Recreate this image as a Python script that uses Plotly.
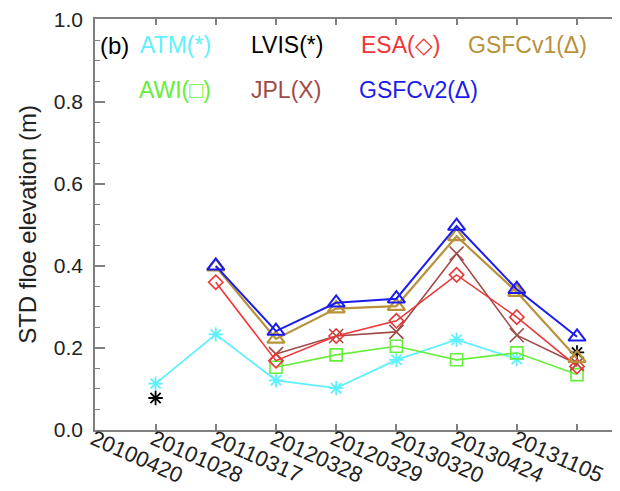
import plotly.graph_objects as go

dates = ["20100420", "20101028", "20110317", "20120328",
         "20120329", "20130320", "20130424", "20131105"]
xi = list(range(len(dates)))

atm    = [0.113, 0.233, 0.121, 0.102, 0.171, 0.220, 0.173, None]
lvis   = [0.078, None, None, None, None, None, None, 0.189]
awi    = [None, None, 0.153, 0.183, 0.204, 0.171, 0.188, 0.135]
jpl    = [None, None, 0.185, 0.229, 0.239, 0.430, 0.231, 0.161]
esa    = [None, 0.360, 0.169, 0.229, 0.266, 0.378, 0.275, 0.155]
gsfc1  = [None, 0.398, 0.222, 0.296, 0.302, 0.472, 0.336, 0.175]
gsfc2  = [None, 0.400, 0.241, 0.310, 0.320, 0.497, 0.343, 0.227]

series = [
    ("ATM", atm, "#5ef0ff", "asterisk-open", 12, 1.8),
    ("LVIS", lvis, "#000000", "asterisk-open", 12, 1.8),
    ("AWI", awi, "#66ee3c", "square-open", 12, 1.6),
    ("JPL", jpl, "#a04a48", "x-thin-open", 14, 1.6),
    ("ESA", esa, "#ee3636", "diamond-open", 11, 1.6),
    ("GSFCv1", gsfc1, "#b8913a", "triangle-up-open", 15, 2.2),
    ("GSFCv2", gsfc2, "#1c1cee", "triangle-up-open", 15, 2.0),
]

legend_items = [
    ("(b)", "#000000", 0.0060, 0.936, 24),
    ("ATM(*)", "#5ef0ff", 0.0810, 0.936, 23),
    ("LVIS(*)", "#000000", 0.2890, 0.936, 23),
    ("ESA(\u25c7)", "#ee3636", 0.4960, 0.936, 23),
    ("GSFCv1(\u0394)", "#b8913a", 0.6960, 0.936, 23),
    ("AWI(\u25a1)", "#66ee3c", 0.0780, 0.828, 23),
    ("JPL(X)", "#a04a48", 0.2890, 0.828, 23),
    ("GSFCv2(\u0394)", "#1c1cee", 0.4920, 0.828, 23),
]

FONT = "Liberation Sans, Arial, sans-serif"

fig = go.Figure()
for name, vals, col, sym, sz, lw in series:
    fig.add_trace(go.Scatter(
        x=xi, y=vals, mode="lines+markers", name=name,
        line=dict(color=col, width=lw),
        marker=dict(symbol=sym, size=sz, color=col,
                    line=dict(color=col, width=lw)),
        connectgaps=False, showlegend=False,
        cliponaxis=False,
    ))

annotations = []
for i, d in enumerate(dates):
    annotations.append(dict(
        x=i, xref="x", y=0, yref="paper", text=d, showarrow=False,
        textangle=24, xanchor="center", yanchor="middle",
        xshift=-19, yshift=-26,
        font=dict(family=FONT, size=22, color="#222222"),
    ))
for txt, col, px, py, fs in legend_items:
    annotations.append(dict(
        x=px, y=py, xref="paper", yref="paper", text=txt, showarrow=False,
        xanchor="left", yanchor="middle",
        font=dict(family=FONT, size=fs, color=col),
    ))

fig.update_layout(
    width=620, height=491,
    margin=dict(l=87, r=0, t=8, b=69),
    paper_bgcolor="white", plot_bgcolor="white",
    font=dict(family=FONT, size=21, color="#222222"),
    annotations=annotations,
    xaxis=dict(
        range=[-1.006, 7.847], tickvals=xi, ticktext=["" for _ in dates],
        showgrid=False, zeroline=False,
        showline=True, linecolor="#808080", linewidth=1.5,
        mirror="ticks", ticks="inside", ticklen=6, tickcolor="#808080",
        tickwidth=1.5,
    ),
    yaxis=dict(
        range=[0, 1.0015], tickvals=[0, 0.2, 0.4, 0.6, 0.8, 1.0],
        tickformat=".1f",
        showgrid=False, zeroline=False,
        showline=True, linecolor="#808080", linewidth=1.5,
        ticks="inside", ticklen=10, tickcolor="#808080", tickwidth=1.5,
        ticklabelstandoff=6, ticklabeloverflow="allow",
        minor=dict(dtick=0.05, ticks="inside", ticklen=5,
                   tickcolor="#808080", tickwidth=1.2),
        title=dict(text="STD floe elevation (m)", standoff=10,
                   font=dict(family=FONT, size=24, color="#222222")),
        tickfont=dict(family=FONT, size=21, color="#222222"),
    ),
)

fig.write_html("out.html")
